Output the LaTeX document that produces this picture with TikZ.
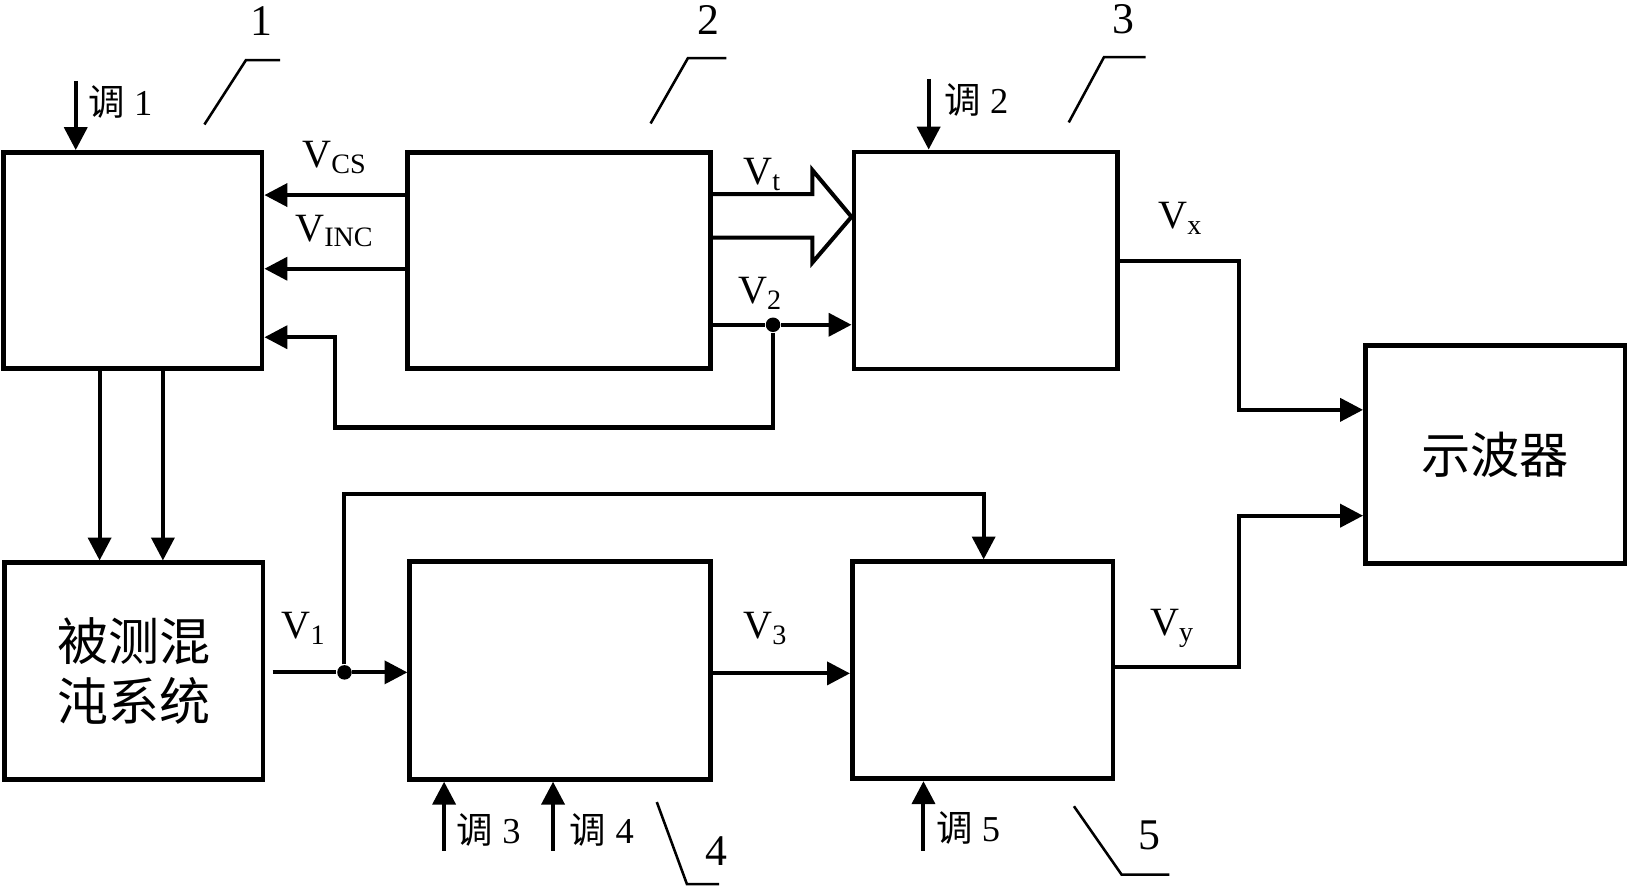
\documentclass[tikz,border=0pt]{standalone}
\usepackage{fontspec}
\setmainfont{Liberation Serif}
\newfontfamily\cjk{Noto Sans CJK SC}
\usetikzlibrary{calc}
\usetikzlibrary{arrows.meta}
\usetikzlibrary{positioning}
\tikzset{blk/.style={draw, line width=1.3pt, inner sep=0pt}}
\tikzset{dot/.style={circle, fill, inner sep=0pt, minimum size=0.14cm}}
\tikzset{lbl/.style={font=\fontsize{11}{13}\selectfont}}
\tikzset{tun/.style={font=\fontsize{10}{12}\selectfont}}
\tikzset{num/.style={font=\fontsize{12}{14}\selectfont}}

\begin{document}
\begin{tikzpicture}[x=0.01cm, y=-0.01cm]
\tikzstyle{myedgestyle} = [line width=1.1pt, -{Triangle[length=0.22cm, width=0.22cm]}]
\tikzstyle{lead} = [line width=0.7pt]
\useasboundingbox (0,0) rectangle (1568,858);
% blocks
\node[blk, minimum width=2.49cm, minimum height=2.08cm](blk1) at (128, 251){};
\node[blk, minimum width=2.92cm, minimum height=2.08cm](blk2) at (539, 251){};
\node[blk, minimum width=2.54cm, minimum height=2.09cm](blk3) at (950, 251){};
\node[blk, minimum width=2.50cm, minimum height=2.10cm, font=\cjk\fontsize{13.5}{16}\selectfont](scope) at (1441, 438){示波器};
\node[blk, minimum width=2.49cm, minimum height=2.09cm, align=center, font=\cjk\fontsize{14}{16.5}\selectfont](chaos) at (129, 647){被测混\\沌系统};
\node[blk, minimum width=2.90cm, minimum height=2.10cm](blk4) at (540, 646){};
\node[blk, minimum width=2.51cm, minimum height=2.09cm](blk5) at (947, 646){};
% tuning inputs
\coordinate (t1) at (73, 78);
\coordinate (t2) at (895, 76);
\coordinate (t3) at (428, 820);
\coordinate (t4) at (533, 820);
\coordinate (t5) at (890, 820);
\draw[myedgestyle] (t1) -- (t1 |- blk1.north);
\draw[myedgestyle] (t2) -- (t2 |- blk3.north);
\draw[myedgestyle] (t3) -- (t3 |- blk4.south);
\draw[myedgestyle] (t4) -- (t4 |- blk4.south);
\draw[myedgestyle] (t5) -- (t5 |- blk5.south);
\node[tun] at (116, 98){{\cjk 调} 1};
\node[tun] at (941, 96){{\cjk 调} 2};
\node[tun] at (471, 800){{\cjk 调} 3};
\node[tun] at (580, 800){{\cjk 调} 4};
\node[tun] at (933, 798){{\cjk 调} 5};
% block 2 to block 1
\draw[myedgestyle] (blk2.west |- 0,188) -- node[lbl, above=2pt] {V\textsubscript{CS}} (blk1.east |- 0,188);
\draw[myedgestyle] (blk2.west |- 0,259) -- node[lbl, above=2pt] {V\textsubscript{INC}} (blk1.east |- 0,259);
\node[dot](d2) at (745, 313){};
\draw[line width=1.1pt] (blk2.east |- d2) -- (d2);
\draw[myedgestyle] (d2) -- (blk3.west |- d2);
\draw[myedgestyle] (d2) -- ++(0, 99) -| (323, 325) -- (blk1.east |- 0,325);
\node[lbl] at (733, 283){V\textsubscript{2}};
% hollow arrow
\draw[line width=1.1pt] (blk2.east |- 0,187) -- (783, 187) -- (783, 164) -- (blk3.west |- 0,209) -- (783, 253) -- (783, 229) -- (blk2.east |- 0,229);
\node[lbl] at (735, 168){V\textsubscript{t}};
% block 1 to chaotic system
\foreach \x in {96, 157}
  \draw[myedgestyle] (blk1.south -| \x,0) -- (chaos.north -| \x,0);
% lower path
\node[dot](d1) at (332, 648){};
\draw[line width=1.1pt] ($(chaos.east |- d1)+(7, 0)$) -- (d1);
\draw[myedgestyle] (d1) -- (blk4.west |- d1);
\coordinate (c5) at (948, 476);
\draw[myedgestyle] (d1) |- (c5) -- (c5 |- blk5.north);
\node[lbl] at (293, 606){V\textsubscript{1}};
\draw[myedgestyle] (blk4.east |- 0,649) -- (blk5.west |- 0,649);
\node[lbl] at (738, 606){V\textsubscript{3}};
% to the oscilloscope
\draw[myedgestyle] (blk3.east |- 0,252) -| (1194, 395) -- (scope.west |- 0,395);
\draw[myedgestyle] (blk5.east |- 0,643) -| (1194, 497) -- (scope.west |- 0,497);
\node[lbl] at (1138, 210){V\textsubscript{x}};
\node[lbl] at (1130, 606){V\textsubscript{y}};
% leaders
\draw[lead] (197, 120) -- (237, 58) -- (270, 58);
\draw[lead] (627, 119) -- (663, 56) -- (700, 56);
\draw[lead] (1030, 118) -- (1064, 55) -- (1104, 55);
\draw[lead] (633, 773) -- (662, 852) -- (693, 852);
\draw[lead] (1035, 777) -- (1081, 843) -- (1127, 843);
\node[num] at (252, 20){1};
\node[num] at (683, 19){2};
\node[num] at (1083, 19){3};
\node[num] at (690, 820){4};
\node[num] at (1108, 805){5};
\end{tikzpicture}
\end{document}
